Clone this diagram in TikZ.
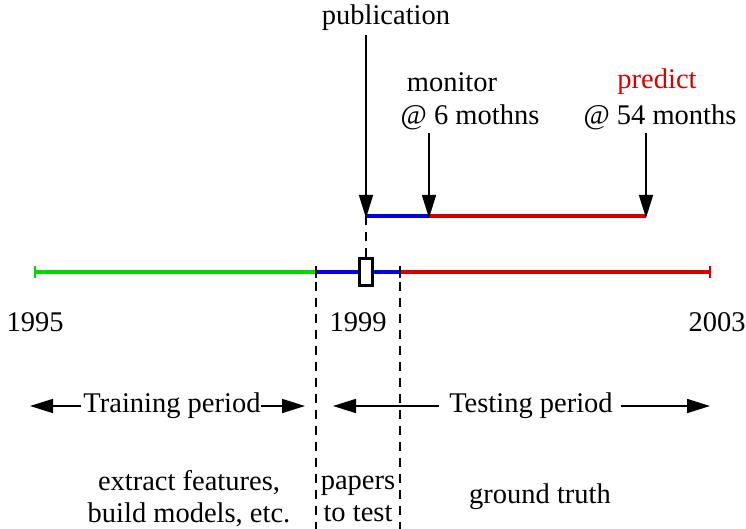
\documentclass[tikz,border=0pt]{standalone}
\usepackage{fontspec}
\setmainfont{Liberation Serif}
\usetikzlibrary{arrows.meta, positioning}
\definecolor{traingreen}{RGB}{0,215,0}
\definecolor{testblue}{RGB}{0,0,230}
\definecolor{testred}{RGB}{215,0,0}

\begin{document}
\begin{tikzpicture}[x=1pt, y=-1pt, >={Triangle[length=23pt,width=14pt]},
    every node/.style = {font=\fontsize{28.5}{32}\selectfont, inner sep=0pt},
    span/.style = {line width=3.5pt},
    tick/.style = {line width=2.5pt},
    pointer/.style = {->, line width=1.6pt},
    cut/.style = {dash pattern=on 9pt off 7pt, line width=1.3pt}]
  \useasboundingbox (0,0) rectangle (746,529);

  % main time line
  \coordinate (start) at (35,272);
  \coordinate (trainend) at (316,272);
  \coordinate (testbeg) at (400,272);
  \coordinate (stop) at (710,272);
  \draw[span, traingreen] (start) -- (trainend);
  \draw[span, testblue] (trainend) -- (testbeg);
  \draw[span, testred] (testbeg) -- (stop);
  \draw[tick, traingreen] ([yshift=-6pt]start) -- ([yshift=6pt]start);
  \draw[tick, testblue] ([yshift=-6pt]trainend) -- ([yshift=6pt]trainend);
  \draw[tick, testblue] ([yshift=-6pt]testbeg) -- ([yshift=6pt]testbeg);
  \draw[tick, testred] ([yshift=-6pt]stop) -- ([yshift=6pt]stop);
  \node[draw, line width=3pt, fill=white, minimum width=13pt, minimum height=27pt] (paper) at (366,272) {};

  % follow-up line
  \coordinate (pub) at (366,216);
  \coordinate (mon) at (429,216);
  \coordinate (pred) at (646,216);
  \draw[span, testblue] (pub) -- (mon);
  \draw[span, testred] (mon) -- (pred);
  \draw[cut] (paper.north) -- (pub);

  % labels above
  \node (publabel) at (386,18) {publication};
  \node (monlabel) at (452,82) {monitor};
  \node (monwhen) at (470,117) {@ 6 mothns};
  \node[text=testred] (predlabel) at (657,82) {predict};
  \node (predwhen) at (660,117) {@ 54 months};
  \draw[pointer] (366,35) -- ([yshift=-2pt]pub);
  \draw[pointer] (429,133) -- ([yshift=-2pt]mon);
  \draw[pointer] (646,133) -- ([yshift=-2pt]pred);

  % years
  \node (y1995) at (35,322) {1995};
  \node (y1999) at (358,322) {1999};
  \node (y2003) at (717,322) {2003};

  % period boundaries
  \coordinate (cutA) at (316,529);
  \coordinate (cutB) at (400,529);
  \draw[cut] ([yshift=6pt]trainend) -- (cutA);
  \draw[cut] ([yshift=6pt]testbeg) -- (cutB);

  % periods
  \node (training) at (172,406) {Training period};
  \node (testing) at (531,406) {Testing period};
  \draw[pointer] ([xshift=-2pt]training.west) -- (30,406);
  \draw[pointer] (training.east) -- (305,406);
  \draw[pointer] ([xshift=-10pt]testing.west) -- (333,406);
  \draw[pointer] ([xshift=8pt]testing.east) -- (710,406);

  % tasks
  \node[align=center] (traintask) at (189,499) {extract features,\\build models, etc.};
  \node[align=center] (papertask) at (358,499) {papers\\to test};
  \node (truth) at (540,497) {ground truth};
\end{tikzpicture}
\end{document}
